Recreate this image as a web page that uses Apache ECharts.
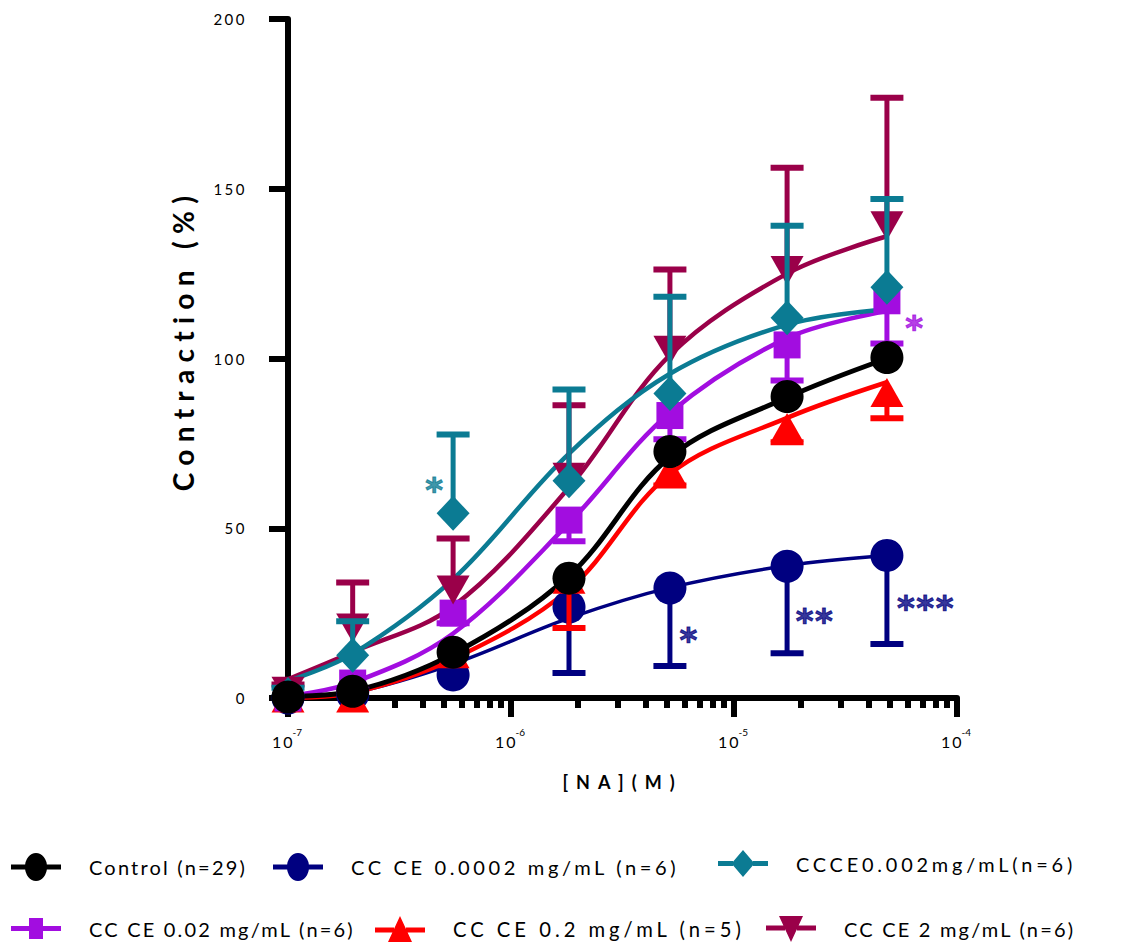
<!DOCTYPE html>
<html>
<head>
<meta charset="utf-8">
<script src="https://cdn.jsdelivr.net/npm/echarts@6/dist/echarts.min.js"></script>
<style>
html,body{margin:0;padding:0;background:#fff;}
#chart{width:1139px;height:947px;}
#chart text[style*=" 15px"]{letter-spacing:2.5px;}
#chart text[style*=" 16px"]{letter-spacing:2px;}
#chart text[style*=" 18px"]{letter-spacing:8px;}
#chart text[style*=" 28px"]{letter-spacing:7.3px;}
#chart text[style*=" 20px"]{letter-spacing:2.2px;}
#chart text[style*=" 20.1px"]{letter-spacing:3.6px;}
#chart text[style*=" 20.2px"]{letter-spacing:4px;}
#chart text[style*=" 19.9px"]{letter-spacing:3.8px;}
#chart text[style*=" 34px"]{letter-spacing:1.5px;}
</style>
</head>
<body>
<div id="chart"></div>
<script>
// ---- data ----
const concentrations = [1e-7, 1.95e-7, 5.5e-7, 1.82e-6, 5.16e-6, 1.73e-5, 4.85e-5];

const controlMean = [0.3, 2, 13.5, 35.3, 72.6, 88.8, 100.3];
const controlFit  = [0.5, 2, 13, 36, 71, 88.5, 100];

const cc00002Mean = [0, 1, 6.8, 26.8, 32.4, 38.8, 42];
const cc00002Err  = [0, 0, 0, 19.4, 23, 25.6, 26.1];
const cc00002Fit  = [0, 1.5, 10, 23.5, 32.5, 39, 42];

const cc0002Mean = [1, 12.6, 54.4, 64, 89.7, 112, 121];
const cc0002Err  = [2, 10, 23.2, 26.9, 28.5, 27.1, 26];
const cc0002Fit  = [5, 13, 35, 72, 95.5, 110, 114.5];

const cc002Mean = [0, 4.4, 25, 52.4, 83.2, 104, 117];
const cc002Err  = [0, 2, 3, 6.2, 7, 10.5, 12.6];
const cc002Fit  = [0.5, 4.5, 19, 51.5, 84, 106, 114];

const cc02Mean = [0, 0, 13, 35, 67, 79.7, 90];
const cc02Err  = [0, 0, 0, 14.4, 4.4, 4.4, 7.6];
const cc02Fit  = [0, 1.5, 11.5, 32, 66, 82.5, 93];

const cc2Mean = [2, 20.6, 31.8, 65, 102.4, 125.9, 139.1];
const cc2Err  = [2, 13.4, 15.2, 21.2, 23.8, 30.3, 37.7];
const cc2Fit  = [5.5, 13.5, 27, 62, 101, 125, 136];

const seriesNames = ['Control (n=29)', 'CC CE 0.0002 mg/mL (n=6)', 'CCCE0.002mg/mL(n=6)',
                     'CC CE 0.02 mg/mL (n=6)', 'CC CE 0.2 mg/mL (n=5)', 'CC CE 2 mg/mL (n=6)'];

const yTickLabels = ['0', '50', '100', '150', '200'];
const xDecades = [1e-7, 1e-6, 1e-5, 1e-4];
const xTickSuperscripts = ['-7', '-6', '-5', '-4'];
const xMinorTicks = [2e-7,3e-7,4e-7,5e-7,6e-7,7e-7,8e-7,9e-7,
                     2e-6,3e-6,4e-6,5e-6,6e-6,7e-6,8e-6,9e-6,
                     2e-5,3e-5,4e-5,5e-5,6e-5,7e-5,8e-5,9e-5];

const annotX = [4.56e-7, 6.47e-5, 6.3e-6, 2.31e-5, 7.26e-5];
const annotY = [63.5, 111.2, 19.3, 25, 28.8];
const annotText = ['*', '*', '*', '**', '***'];
const annotColor = ['#0b7b93', '#a20de0', '#000080', '#000080', '#000080'];

// ---- styles ----
const FONT = 'Lato';
const C_BLACK = '#000000', C_NAVY = '#000080', C_TEAL = '#0b7b93',
      C_PURPLE = '#a20de0', C_RED = '#ff0000', C_MAROON = '#9a0049';

function pts(ys) { return concentrations.map((c, i) => [c, ys[i]]); }

function curve(ys, color, width) {
  return { type: 'line', data: pts(ys), smooth: 0.35, symbol: 'none', z: 1,
    lineStyle: { color: color, width: width }, silent: true };
}
function markers(name, ys, color, symbol, size, rot, z) {
  return { type: 'scatter', name: name, data: pts(ys), symbol: symbol, symbolSize: size,
    symbolRotate: rot, itemStyle: { color: color, opacity: 1 }, z: z, silent: true };
}
function errBars(ys, errs, dir, color, z) {
  return { type: 'custom', z: z, silent: true,
    data: concentrations.map((c, i) => [c, ys[i], errs[i]]),
    renderItem: function (params, api) {
      const x = api.value(0), y = api.value(1), e = api.value(2);
      if (!e) return null;
      const p0 = api.coord([x, y]);
      const p1 = api.coord([x, y + dir * e]);
      return { type: 'group', children: [
        { type: 'line', shape: { x1: p0[0], y1: p0[1], x2: p1[0], y2: p1[1] },
          style: { stroke: color, lineWidth: 5 } },
        { type: 'line', shape: { x1: p1[0] - 16.5, y1: p1[1], x2: p1[0] + 16.5, y2: p1[1] },
          style: { stroke: color, lineWidth: 6 } }
      ]};
    }
  };
}

// legend icons (line + marker), drawn in a box that matches itemWidth x itemHeight
const ICON_CIRCLE = 'path://M0,11.5L14.3,11.5L14.3,16.5L0,16.5Z M35.7,11.5L50,11.5L50,16.5L35.7,16.5Z M14,14A11,14 0 1,1 36,14A11,14 0 1,1 14,14Z';
const ICON_DIAMOND = 'path://M0,11L15,11L15,16L0,16Z M35,11L50,11L50,16L35,16Z M25,0L36.5,13.5L25,27L13.5,13.5Z';
const ICON_SQUARE = 'path://M0,8L18,8L18,13L0,13Z M32,8L50,8L50,13L32,13Z M18,0L32,0L32,21L18,21Z';
const ICON_TRI_UP = 'path://M0,11.5L19,11.5L19,16.5L0,16.5Z M31,11.5L50,11.5L50,16.5L31,16.5Z M25,0L37,26L13,26Z';
const ICON_TRI_DOWN = 'path://M0,9.5L19,9.5L19,14.5L0,14.5Z M31,9.5L50,9.5L50,14.5L31,14.5Z M13,0L37,0L25,26Z';

function legendItem(name, icon, left, top, h, fs) {
  return { data: [{ name: name, icon: icon }], left: left, top: top, itemWidth: 50, itemHeight: h,
    selectedMode: false, padding: 0,
    textStyle: { fontFamily: FONT, fontSize: fs, color: '#000', padding: [0, 0, 0, 23] } };
}

const chart = echarts.init(document.getElementById('chart'), null, { renderer: 'svg' });

chart.setOption({
  animation: false,
  backgroundColor: '#ffffff',
  grid: { left: 288, top: 19, width: 669, height: 679 },
  xAxis: [{
    type: 'log', logBase: 10, min: 1e-7, max: 1e-4,
    axisLine: { show: true, lineStyle: { color: '#000', width: 6 } },
    axisTick: { show: true, length: 19, lineStyle: { color: '#000', width: 6 } },
    splitLine: { show: false }, minorTick: { show: false },
    axisLabel: {
      margin: 29, color: '#000',
      formatter: function (v) {
        let best = 0;
        xDecades.forEach((d, i) => { if (Math.abs(Math.log10(v) - Math.log10(d)) < 0.01) best = i; });
        return '{b|10}{s|' + xTickSuperscripts[best] + '}';
      },
      rich: {
        b: { fontFamily: FONT, fontSize: 16, color: '#000', lineHeight: 22, verticalAlign: 'bottom' },
        s: { fontFamily: FONT, fontSize: 10, color: '#000', lineHeight: 22, verticalAlign: 'top' }
      }
    },
    name: '[NA](M)', nameLocation: 'middle', nameGap: 75,
    nameTextStyle: { fontFamily: FONT, fontSize: 18, fontWeight: 'bold', color: '#000' }
  }, {
    type: 'log', logBase: 10, min: 1e-7, max: 1e-4, position: 'bottom', offset: 0,
    axisLine: { show: false }, axisLabel: { show: false }, splitLine: { show: false },
    axisTick: { show: true, length: 10, customValues: xMinorTicks, lineStyle: { color: '#000', width: 6 } }
  }],
  yAxis: {
    type: 'value', min: 0, max: 200, interval: 50,
    axisLine: { show: true, lineStyle: { color: '#000', width: 6 } },
    axisTick: { show: true, length: 19, lineStyle: { color: '#000', width: 6 } },
    splitLine: { show: false },
    axisLabel: { margin: 41, fontFamily: FONT, fontSize: 15, color: '#000',
      formatter: function (v) { return yTickLabels[Math.round(v / 50)]; } },
    name: 'Contraction (%)', nameLocation: 'middle', nameGap: 91, nameRotate: 90,
    nameTextStyle: { fontFamily: FONT, fontSize: 28, fontWeight: 'bold', color: '#000', padding: [0, 0, 0, 37] }
  },
  legend: [
    legendItem(seriesNames[0], ICON_CIRCLE, 11, 853, 28, 20),
    legendItem(seriesNames[1], ICON_CIRCLE, 273, 853, 28, 20.1),
    legendItem(seriesNames[2], ICON_DIAMOND, 718, 850, 27, 19.9),
    legendItem(seriesNames[3], ICON_SQUARE, 11, 918, 21, 20),
    legendItem(seriesNames[4], ICON_TRI_UP, 375, 916, 26, 20.2),
    legendItem(seriesNames[5], ICON_TRI_DOWN, 766, 916, 26, 20)
  ],
  series: [
    curve(cc00002Fit, C_NAVY, 3.5),
    curve(cc02Fit, C_RED, 4.5),
    curve(cc002Fit, C_PURPLE, 4.5),
    curve(controlFit, C_BLACK, 5),
    curve(cc2Fit, C_MAROON, 4.5),
    curve(cc0002Fit, C_TEAL, 4.5),

    errBars(cc00002Mean, cc00002Err, -1, C_NAVY, 2),
    markers(seriesNames[1], cc00002Mean, C_NAVY, 'circle', 33, 0, 3),
    errBars(cc02Mean, cc02Err, -1, C_RED, 4),
    markers(seriesNames[4], cc02Mean, C_RED, 'triangle', [33, 29], 0, 5),
    errBars(cc002Mean, cc002Err, -1, C_PURPLE, 6),
    markers(seriesNames[3], cc002Mean, C_PURPLE, 'rect', [27, 27], 0, 7),
    errBars(cc2Mean, cc2Err, 1, C_MAROON, 8),
    markers(seriesNames[5], cc2Mean, C_MAROON, 'triangle', [33, 29], 180, 9),
    errBars(cc0002Mean, cc0002Err, 1, C_TEAL, 10),
    markers(seriesNames[2], cc0002Mean, C_TEAL, 'diamond', [33, 35], 0, 11),
    markers(seriesNames[0], controlMean, C_BLACK, 'circle', 33, 0, 12),

    { type: 'scatter', z: 20, silent: true, symbolSize: 1,
      itemStyle: { color: 'rgba(0,0,0,0)' },
      label: { show: true, position: 'inside', fontFamily: 'DejaVu Sans', fontSize: 34, fontWeight: 'bold', offset: [0, 8] },
      data: annotX.map((x, i) => ({ value: [x, annotY[i]],
        label: { formatter: annotText[i], color: annotColor[i],
                 textBorderColor: annotColor[i], textBorderWidth: 1 } })) }
  ]
});
</script>
</body>
</html>
